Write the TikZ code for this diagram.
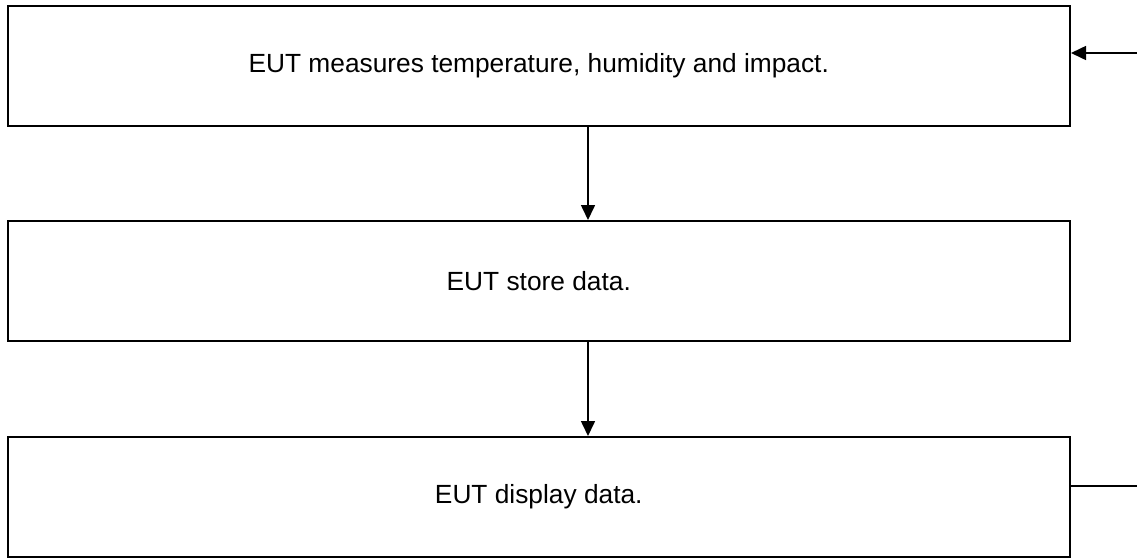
\documentclass[tikz,border=0pt]{standalone}
\usepackage{fontspec}
\setmainfont{Liberation Sans}
\usetikzlibrary{arrows.meta}
\begin{document}
\begin{tikzpicture}[x=1pt,y=-1pt,
  stepbox/.style={draw, line width=2pt, inner sep=0pt, minimum width=1062.5pt, minimum height=120pt, font=\fontsize{26.3}{31}\selectfont},
  conn/.style={line width=1.6pt, -{Triangle[length=15pt,width=14pt]}},
  plain/.style={line width=1.6pt}]
\useasboundingbox (0,0) rectangle (1137,557);
\node (b1) at (538.75,66) [stepbox] {EUT measures temperature, humidity and impact.};
\node (b2) at (538.75,281) [stepbox] {EUT store data.};
\node (b3) at (538.75,497) [stepbox] {EUT display data.};
\coordinate (r1) at (1137,53);
\coordinate (r3) at (1137,486);
\draw[conn] (b1.south -| 588,0) -- (b2.north -| 588,0);
\draw[conn] (b2.south -| 588,0) -- (b3.north -| 588,0);
\draw[conn] (r1) -- (r1 -| b1.east);
\draw[plain] (r3 -| b3.east) -- (r3);
\end{tikzpicture}
\end{document}
